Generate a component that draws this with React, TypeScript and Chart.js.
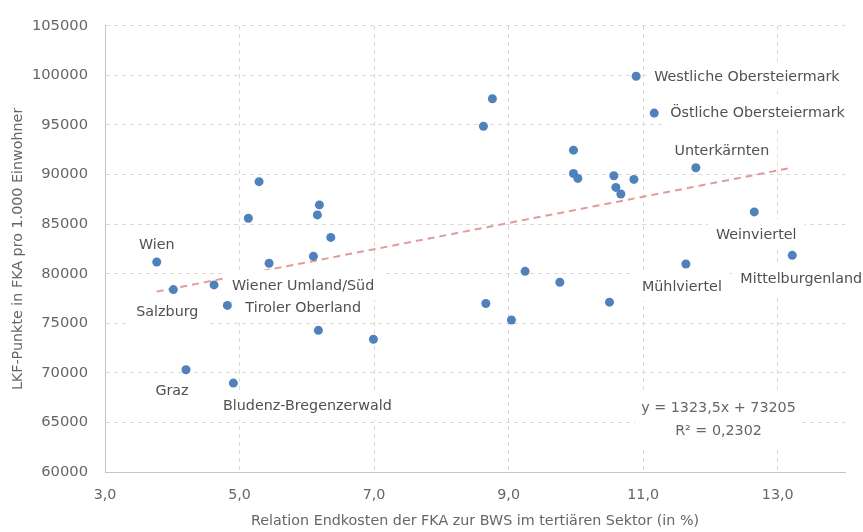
import React, { useEffect, useRef } from 'react';
import { Chart, registerables } from 'chart.js';

Chart.register(...registerables);

// ---------- data ----------
const X_VALUES = [
  3.769, 4.016, 4.621, 4.819, 4.204, 4.908, 5.29, 5.131, 6.187, 6.157, 6.356, 6.098, 5.439, 6.172, 6.99,
  8.759, 8.625, 10.896, 11.164, 9.964, 9.964, 10.029, 10.564, 10.594, 10.668, 10.862, 11.783,
  12.651, 13.216, 11.635, 9.245, 9.761, 10.499, 8.661, 9.042,
];
const Y_VALUES = [
  81180, 78400, 78870, 76800, 70310, 68970, 89280, 85590, 86940, 85930, 83660, 81750, 81050, 74290, 73390,
  97640, 94870, 99910, 96200, 92460, 90110, 89610, 89880, 88700, 88040, 89510, 90680,
  86230, 81850, 80980, 80240, 79140, 77130, 77000, 75330,
];
const POINT_NAMES = [
  'Wien', 'Salzburg', 'Wiener Umland/Süd', 'Tiroler Oberland', 'Graz', 'Bludenz-Bregenzerwald', '', '', '', '', '', '', '', '', '',
  '', '', 'Westliche Obersteiermark', 'Östliche Obersteiermark', '', '', '', '', '', '', '', 'Unterkärnten',
  'Weinviertel', 'Mittelburgenland', 'Mühlviertel', '', '', '', '', '',
];
const X_TICKS = [3, 5, 7, 9, 11, 13];
const X_MIN = 3;
const X_MAX = 14;
const Y_MIN = 60000;
const Y_MAX = 105000;
const Y_STEP = 5000;
const TREND_SLOPE = 1323.5;
const TREND_INTERCEPT = 73205;
const EQUATION_LINES = ['y = 1323,5x + 73205', 'R² = 0,2302'];
const EQUATION_ANCHOR = { x: 12.12, y: 66500 };
const X_TITLE = 'Relation Endkosten der FKA zur BWS im tertiären Sektor (in %)';
const Y_TITLE = 'LKF-Punkte in FKA pro 1.000 Einwohner';

// ---------- layout / style for labels (pixel offsets from point) ----------
const LABEL_LAYOUT: Record<string, [number, number, CanvasTextAlign]> = {
  'Wien': [0, -18, 'center'],
  'Salzburg': [-6, 22, 'center'],
  'Wiener Umland/Süd': [18, 0, 'left'],
  'Tiroler Oberland': [18, 2, 'left'],
  'Graz': [-14, 21, 'center'],
  'Bludenz-Bregenzerwald': [74, 22, 'center'],
  'Westliche Obersteiermark': [18, 0, 'left'],
  'Östliche Obersteiermark': [16, -1, 'left'],
  'Unterkärnten': [26, -18, 'center'],
  'Weinviertel': [2, 22, 'center'],
  'Mühlviertel': [-4, 22, 'center'],
  'Mittelburgenland': [9, 23, 'center'],
};

const FONT = 'DejaVu Sans';
const FONT_SIZE = 14.3;
const LABEL_FONT = `${FONT_SIZE}px "${FONT}"`;

const labelPlugin = {
  id: 'pointLabels',
  afterDatasetDraw(chart: any, args: any) {
    if (args.index !== 1) return; // after trend line, before points
    const ctx: CanvasRenderingContext2D = chart.ctx;
    const xs = chart.scales.x;
    const ys = chart.scales.y;
    ctx.save();
    ctx.font = LABEL_FONT;
    ctx.textBaseline = 'middle';
    const drawBoxText = (text: string, x: number, y: number, align: CanvasTextAlign, color: string) => {
      const w = ctx.measureText(text).width;
      let left = x;
      if (align === 'center') left = x - w / 2;
      else if (align === 'right') left = x - w;
      ctx.fillStyle = '#ffffff';
      ctx.fillRect(left - 8, y - 15, w + 16, 30);
      ctx.fillStyle = color;
      ctx.textAlign = 'left';
      ctx.fillText(text, left, y + 1);
    };
    POINT_NAMES.forEach((name, i) => {
      if (!name) return;
      const lay = LABEL_LAYOUT[name] || [0, -18, 'center'];
      const px = xs.getPixelForValue(X_VALUES[i]);
      const py = ys.getPixelForValue(Y_VALUES[i]);
      drawBoxText(name, px + lay[0], py + lay[1], lay[2], '#505050');
    });
    // equation box
    const ex = xs.getPixelForValue(EQUATION_ANCHOR.x);
    const ey = ys.getPixelForValue(EQUATION_ANCHOR.y);
    const widths = EQUATION_LINES.map((t) => ctx.measureText(t).width);
    const mw = Math.max(...widths);
    ctx.fillStyle = '#ffffff';
    ctx.fillRect(ex - mw / 2 - 6, ey - 18, mw + 12, 23 * EQUATION_LINES.length + 12);
    ctx.fillStyle = '#666666';
    ctx.textAlign = 'center';
    EQUATION_LINES.forEach((t, k) => ctx.fillText(t, ex, ey + k * 23 + 1));
    ctx.restore();
  },
};

export default function App() {
  const canvasRef = useRef<HTMLCanvasElement | null>(null);

  useEffect(() => {
    if (!canvasRef.current) return;
    Chart.defaults.font.family = FONT;
    const xMinData = Math.min(...X_VALUES);
    const xMaxData = Math.max(...X_VALUES);
    const trend = [xMinData, xMaxData].map((x) => ({ x, y: TREND_SLOPE * x + TREND_INTERCEPT }));
    const points = X_VALUES.map((x, i) => ({ x, y: Y_VALUES[i] }));

    const chart = new Chart(canvasRef.current, {
      type: 'scatter',
      data: {
        datasets: [
          {
            type: 'scatter',
            label: 'Regionen',
            data: points,
            order: 0,
            pointRadius: 4.5,
            pointBackgroundColor: '#4f81bd',
            pointBorderWidth: 0,
            borderColor: '#4f81bd',
          },
          {
            type: 'line',
            label: 'Trend',
            data: trend,
            order: 1,
            showLine: true,
            pointRadius: 0,
            borderColor: '#e29b9b',
            borderWidth: 2,
            borderDash: [7, 5],
            fill: false,
          } as any,
        ],
      },
      options: {
        responsive: false,
        animation: false,
        layout: { padding: { top: 23, right: 18, left: 0, bottom: 0 } },
        plugins: {
          legend: { display: false },
          tooltip: { enabled: false },
        },
        scales: {
          x: {
            type: 'linear',
            min: X_MIN,
            max: X_MAX,
            afterBuildTicks: (s: any) => {
              s.ticks = X_TICKS.map((v) => ({ value: v }));
            },
            afterFit: (s: any) => {
              s.height = 60;
            },
            grid: { color: '#d9d9d9', drawTicks: false, lineWidth: 1 },
            border: { display: true, color: '#c4c4c4', width: 1, dash: [4, 4] },
            ticks: {
              color: '#666666',
              font: { size: FONT_SIZE },
              padding: 15,
              callback: (v: any) => Number(v).toFixed(1).replace('.', ','),
            },
            title: {
              display: true,
              text: X_TITLE,
              color: '#666666',
              font: { size: FONT_SIZE },
              padding: { top: 0, bottom: 2 },
            },
          },
          y: {
            type: 'linear',
            min: Y_MIN,
            max: Y_MAX,
            afterFit: (s: any) => {
              s.width = 105;
            },
            grid: { color: '#d9d9d9', drawTicks: false, lineWidth: 1 },
            border: { display: true, color: '#c4c4c4', width: 1, dash: [4, 4] },
            ticks: {
              stepSize: Y_STEP,
              color: '#666666',
              font: { size: FONT_SIZE + 0.4 },
              padding: 17,
              callback: (v: any) => String(v),
            },
            title: {
              display: true,
              text: Y_TITLE,
              color: '#666666',
              font: { size: FONT_SIZE },
              padding: { top: 10, bottom: 0 },
            },
          },
        },
      },
      plugins: [labelPlugin],
    });
    return () => chart.destroy();
  }, []);

  return (
    <div style={{ position: 'absolute', left: 0, top: 0, width: 863, height: 532, background: '#ffffff' }}>
      <canvas ref={canvasRef} width={863} height={532} style={{ display: 'block', width: 863, height: 532 }} />
    </div>
  );
}
